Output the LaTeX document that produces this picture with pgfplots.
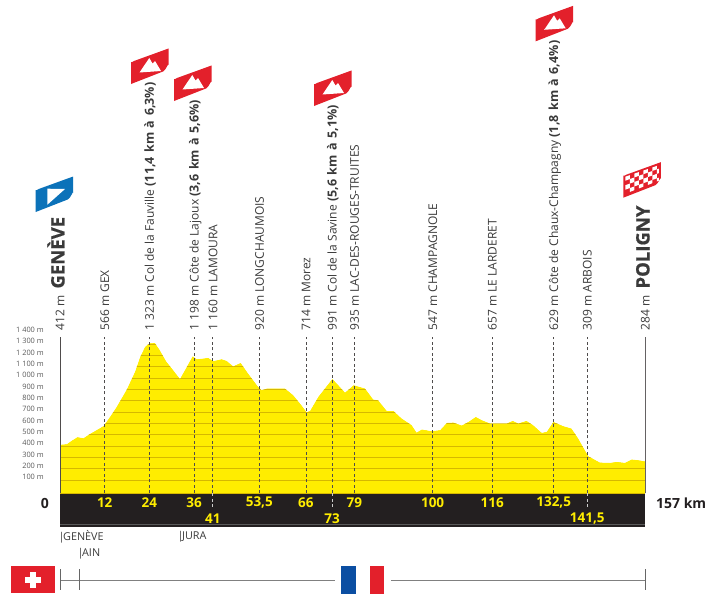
\documentclass[border=0pt]{standalone}
\usepackage{pgfplots}
\usepackage{pgfplotstable}
\usepackage{fontspec}
\setmainfont{Open Sans}
\pgfplotsset{compat=1.18}
\definecolor{tdfyellow}{HTML}{FFED00}
\definecolor{tdfgrid}{HTML}{D6B800}
\definecolor{tdfred}{HTML}{E3202B}
\definecolor{tdfblue}{HTML}{0B72B9}
\definecolor{tdfdark}{HTML}{231F20}
\definecolor{tdftext}{HTML}{3A3A3A}
\definecolor{frblue}{HTML}{0B4EA2}
\pgfplotstableread{
km ele
0 412
1.8 417
3.1 447
4.65 479
6.3 470
7.9 505
9.8 541
11.7 578
13.4 658
15.2 747
17.9 900
20.1 1055
21.5 1188
22.8 1276
23.9 1306
25.5 1311
26.8 1247
28.6 1144
30.4 1070
32.2 994
33.5 1070
35.6 1194
36.7 1167
38.5 1173
39.8 1179
41.1 1150
43.4 1167
44.7 1153
46.5 1105
48.5 1135
50.5 1041
53.2 923
54.1 894
55.5 908
58.1 908
60.4 908
62.6 850
64.8 761
66.2 700
67.1 711
69.3 835
73.1 994
74.7 938
76.5 873
78.8 938
81.9 908
84.1 811
85.4 805
87.7 711
89.5 711
91.7 644
94.4 585
95.7 520
97.1 547
99.7 532
102 541
103.8 605
105.6 608
107.8 582
109.6 614
111.6 658
113.2 629
115.4 600
119.9 600
121.5 623
123 600
125.2 623
127 585
129.3 517
130.6 526
132.4 614
135.1 576
137.3 555
139.1 467
141.8 311
144.9 255
147.6 252
149.4 261
151.6 252
153.4 282
155.2 276
157 265
}\prof
\newcommand\climb[2]{\begin{scope}[shift={(#1,#2)}]
  \fill[tdfred] (0,0) -- (0,-22) to[out=-60,in=195] (3,-23) -- (37.5,-35.5) -- (37.5,-19) to[out=90,in=20] (32,-12.5) -- cycle;
  \fill[white] (8.5,-11.5) -- (18.3,-26) -- (21.5,-20.5) -- (24,-23) -- (30,-13) -- cycle;
\end{scope}}
\newcommand\bp[1]{{\bfseries\fontsize{12.5}{14}\selectfont\spaceskip=4.5pt\relax #1}}
\newcommand\bigname[1]{{\bfseries\fontsize{18.5}{20}\selectfont\addfontfeatures{FakeBold=0.6}\hspace{4pt}#1}}
\newcommand\place[4]{\node[rotate=90,anchor=west,inner sep=0pt,text height=9pt,text depth=0pt,text=tdftext,font=\fontsize{12}{14}\selectfont] at (axis cs:#1,#2) {#3 #4};}
\begin{document}
\begin{tikzpicture}[x=1pt,y=-1pt]
\useasboundingbox (0,0) rectangle (712,602);
\fill[tdfdark] (60,493.3) rectangle (645,526.7);
\draw[gray!70!black,line width=0.3pt] (60,524.3) -- (645,524.3);
\begin{axis}[
  at={(60pt,-493.3pt)},anchor=south west,
  scale only axis,width=585pt,height=160.6pt,
  xmin=0,xmax=157,ymin=-17.65,ymax=1400,
  clip=false,axis lines=none,
]
\addplot[fill=tdfyellow,draw=none] table[x=km,y=ele] {\prof} -- (axis cs:157,-17.65) -- (axis cs:0,-17.65) -- cycle;
\addplot[tdfgrid,line width=0.6pt] coordinates {(0,100) (157,100)};
\addplot[tdfgrid,line width=0.6pt] coordinates {(0,200) (157,200)};
\addplot[tdfgrid,line width=0.6pt] coordinates {(0,300) (157,300)};
\addplot[tdfgrid,line width=0.6pt] coordinates {(0,400) (157,400)};
\addplot[tdfgrid,line width=0.6pt] coordinates {(0,500) (157,500)};
\addplot[tdfgrid,line width=0.6pt] coordinates {(0,600) (157,600)};
\addplot[tdfgrid,line width=0.6pt] coordinates {(0,700) (157,700)};
\addplot[tdfgrid,line width=0.6pt] coordinates {(0,800) (157,800)};
\addplot[tdfgrid,line width=0.6pt] coordinates {(0,900) (157,900)};
\addplot[tdfgrid,line width=0.6pt] coordinates {(0,1000) (157,1000)};
\addplot[tdfgrid,line width=0.6pt] coordinates {(0,1100) (157,1100)};
\addplot[tdfgrid,line width=0.6pt] coordinates {(0,1200) (157,1200)};
\addplot[tdfgrid,line width=0.6pt] coordinates {(0,1300) (157,1300)};
\addplot[fill=white,draw=none] table[x=km,y=ele] {\prof} -- (axis cs:157,1364) -- (axis cs:0,1364) -- cycle;
\addplot[tdfgrid,line width=0.8pt] coordinates {(0,-17.65) (157,-17.65)};
\addplot[tdfdark!80,line width=0.9pt] coordinates {(0,-17.65) (0,1364)};
\addplot[tdfdark!70,line width=0.9pt] coordinates {(157,-17.65) (157,1364)};
\addplot[tdfdark!80,line width=0.75pt,dash pattern=on 3pt off 2.5pt] coordinates {(12,-17.65) (12,1364)};
\addplot[tdfdark!80,line width=0.75pt,dash pattern=on 3pt off 2.5pt] coordinates {(24,-17.65) (24,1364)};
\addplot[tdfdark!80,line width=0.75pt,dash pattern=on 3pt off 2.5pt] coordinates {(36,-17.65) (36,1364)};
\addplot[tdfdark!80,line width=0.75pt,dash pattern=on 3pt off 2.5pt] coordinates {(41,-17.65) (41,1364)};
\addplot[tdfdark!80,line width=0.75pt,dash pattern=on 3pt off 2.5pt] coordinates {(53.5,-17.65) (53.5,1364)};
\addplot[tdfdark!80,line width=0.75pt,dash pattern=on 3pt off 2.5pt] coordinates {(66,-17.65) (66,1364)};
\addplot[tdfdark!80,line width=0.75pt,dash pattern=on 3pt off 2.5pt] coordinates {(73,-17.65) (73,1364)};
\addplot[tdfdark!80,line width=0.75pt,dash pattern=on 3pt off 2.5pt] coordinates {(79,-17.65) (79,1364)};
\addplot[tdfdark!80,line width=0.75pt,dash pattern=on 3pt off 2.5pt] coordinates {(100,-17.65) (100,1364)};
\addplot[tdfdark!80,line width=0.75pt,dash pattern=on 3pt off 2.5pt] coordinates {(116,-17.65) (116,1364)};
\addplot[tdfdark!80,line width=0.75pt,dash pattern=on 3pt off 2.5pt] coordinates {(132.5,-17.65) (132.5,1364)};
\addplot[tdfdark!80,line width=0.75pt,dash pattern=on 3pt off 2.5pt] coordinates {(141.5,-17.65) (141.5,1364)};
\addplot[white!80!black,line width=0.75pt,dash pattern=on 3pt off 2.5pt] coordinates {(41,-17.65) (41,-145)};
\addplot[white!80!black,line width=0.75pt,dash pattern=on 3pt off 2.5pt] coordinates {(73,-17.65) (73,-145)};
\addplot[white!80!black,line width=0.75pt,dash pattern=on 3pt off 2.5pt] coordinates {(141.5,-17.65) (141.5,-145)};
% tick values in the strip
\foreach \k/\t in {12/12,24/24,36/36,53.5/{53,5},66/66,79/79,100/100,116/116,132.5/{132,5}}{
  \edef\temp{\noexpand\node[text=tdfyellow,font=\noexpand\bfseries\noexpand\fontsize{13.5}{15}\noexpand\selectfont,inner sep=0pt] at (axis cs:\k,-97) {\t};}\temp}
\foreach \k/\t in {41/41,73/73,141.5/{141,5}}{
  \edef\temp{\noexpand\node[text=tdfyellow,font=\noexpand\bfseries\noexpand\fontsize{13.5}{15}\noexpand\selectfont,inner sep=0pt] at (axis cs:\k,-238) {\t};}\temp}
% elevation scale
\foreach \v/\t in {100/100 m,200/200 m,300/300 m,400/400 m,500/500 m,600/600 m,700/700 m,800/800 m,900/900 m,1000/1 000 m,1100/1 100 m,1200/1 200 m,1300/1 300 m,1400/1 400 m}{
  \edef\temp{\noexpand\node[anchor=east,text=black!65,font=\noexpand\fontsize{7.4}{9}\noexpand\selectfont,inner sep=0pt] at (axis cs:-4.3,\v+26) {\t};}\temp}
\place{0}{1418}{412 m}{\bigname{GENÈVE}}
\place{12}{1418}{566 m}{GEX}
\place{24}{1418}{1 323 m}{Col de la Fauville \bp{(11,4 km à 6,3\%)}}
\place{36}{1418}{1 198 m}{Côte de Lajoux \bp{(3,6 km à 5,6\%)}}
\place{41}{1418}{1 160 m}{LAMOURA}
\place{53.5}{1418}{920 m}{LONGCHAUMOIS}
\place{66}{1418}{714 m}{Morez}
\place{73}{1418}{991 m}{Col de la Savine \bp{(5,6 km à 5,1\%)}}
\place{79}{1418}{935 m}{LAC-DES-ROUGES-TRUITES}
\place{100}{1418}{547 m}{CHAMPAGNOLE}
\place{116}{1418}{657 m}{LE LARDERET}
\place{132.5}{1418}{629 m}{Côte de Chaux-Champagny \bp{(1,8 km à 6,4\%)}}
\place{141.5}{1418}{309 m}{ARBOIS}
\place{157}{1418}{284 m}{\bigname{POLIGNY}}
\end{axis}
% km labels
\node[anchor=east,inner sep=0pt,text=tdfdark,font=\bfseries\fontsize{14}{16}\selectfont] at (49,503) {0};
\node[anchor=west,inner sep=0pt,text=tdfdark,font=\bfseries\fontsize{14}{16}\selectfont] at (656,503) {157 km};
% flags
\climb{131}{84}
\climb{174}{101}
\climb{314}{106}
\climb{535.7}{41.3}
\begin{scope}[shift={(35.7,212)}]
  \fill[tdfblue] (0,0) -- (0,-22) to[out=-60,in=195] (3,-23) -- (37.5,-35.5) -- (37.5,-19) to[out=90,in=20] (32,-12.5) -- cycle;
  \fill[white] (11.7,-23.3) -- (11.7,-7.3) -- (29.3,-23) -- cycle;
\end{scope}
\begin{scope}[shift={(623.3,197.7)}]
  \fill[tdfred] (0,0) -- (0,-22) to[out=-60,in=195] (3,-23) -- (37.5,-35.5) -- (37.5,-19) to[out=90,in=20] (32,-12.5) -- cycle;
  \begin{scope}
  \clip (2,-4) -- (2,-21) -- (35.5,-32.5) -- (35.5,-17) -- cycle;
  \foreach \i in {0,...,7}{\foreach \j in {0,...,7}{
    \pgfmathsetmacro\pp{int(mod(\i+\j,2))}
    \ifnum\pp=0
      \fill[white] (\i*4.5+2,-\i*4.5*0.36-\j*4.5+1) -- ++(4.5,-1.62) -- ++(0,-4.5) -- ++(-4.5,1.62) -- cycle;
    \fi}}
  \end{scope}
\end{scope}
% departments and countries
\node[anchor=west,inner sep=0pt,text=tdftext,font=\fontsize{10.8}{12}\selectfont] at (58.5,537) {|\kern-1.5ptGENÈVE};
\node[anchor=west,inner sep=0pt,text=tdftext,font=\fontsize{10.8}{12}\selectfont] at (77.5,554) {|\kern-1.5ptAIN};
\node[anchor=west,inner sep=0pt,text=tdftext,font=\fontsize{10.8}{12}\selectfont] at (177.5,537) {|\kern-1.5ptJURA};
\fill[tdfred] (11,566) rectangle (54.5,593);
\fill[white] (29.5,572) rectangle (35.5,587.5);
\fill[white] (25,576.8) rectangle (40.5,582.8);
\draw[black!50,line width=1pt] (60,580) -- (335,580);
\draw[black!50,line width=1pt] (391,580) -- (645,580);
\draw[black!60,line width=0.7pt] (60.3,569) -- (60.3,590);
\draw[black!60,line width=0.7pt] (79.7,569) -- (79.7,590);
\draw[black!60,line width=0.7pt] (645,569) -- (645,590);
\fill[frblue] (340.5,566.3) rectangle (355.5,593.5);
\fill[tdfred] (369.7,566.3) rectangle (384,593.5);
\end{tikzpicture}
\end{document}
